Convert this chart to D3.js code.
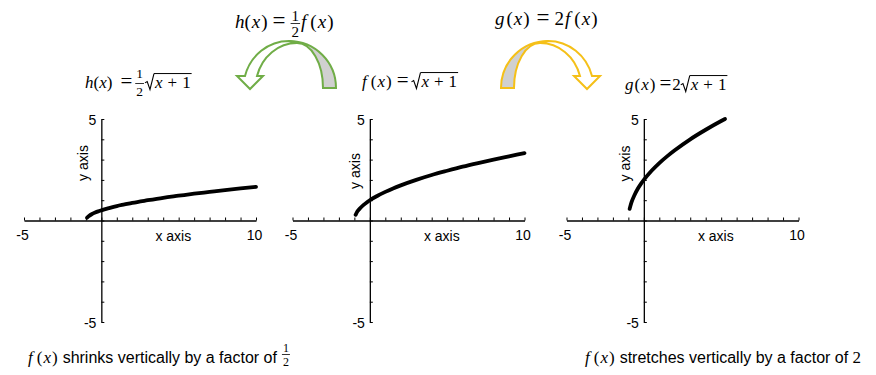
<!DOCTYPE html>
<html>
<head>
<meta charset="utf-8">
<script src="https://cdn.jsdelivr.net/npm/d3@7.9.0/dist/d3.min.js"></script>
<style>
  body { margin: 0; background: #fff; }
  svg { display: block; }
</style>
</head>
<body>
<script>
const xsF = [-0.92, -0.8, -0.6, -0.4, -0.2, 0, 0.5, 1, 1.5, 2, 3, 4, 5, 6, 7, 8, 9, 10];
const hVals = [0.14, 0.22, 0.32, 0.39, 0.45, 0.5, 0.61, 0.71, 0.79, 0.87, 1.0, 1.12, 1.22, 1.32, 1.41, 1.5, 1.58, 1.66];
const fVals = [0.28, 0.45, 0.63, 0.77, 0.89, 1.0, 1.22, 1.41, 1.58, 1.73, 2.0, 2.24, 2.45, 2.65, 2.83, 3.0, 3.16, 3.32];
const xsG = [-0.92, -0.8, -0.6, -0.4, -0.2, 0, 0.5, 1, 1.5, 2, 3, 4, 5, 5.25];
const gVals = [0.57, 0.89, 1.26, 1.55, 1.79, 2.0, 2.45, 2.83, 3.16, 3.46, 4.0, 4.47, 4.9, 5.0];

const xDomain = [-5, 10];
const yDomain = [-5, 5];
const xTickLabels = ['-5', '10'];
const yTickLabels = ['5', '-5'];

const MATH = "'Liberation Serif', 'DejaVu Serif', serif";
const SANS = "'Liberation Sans', Arial, sans-serif";

const svg = d3.select('body').append('svg')
  .attr('width', 876)
  .attr('height', 375);

// one panel per function
const panels = [
  { left: 24, xs: xsF, ys: hVals, labX: -13.5, labY: 163 },
  { left: 292.5, xs: xsF, ys: fVals, labX: -9.5, labY: 171 },
  { left: 566.5, xs: xsG, ys: gVals, labX: -14, labY: 163.5 }
];

panels.forEach((p) => {
  let x = d3.scaleLinear().domain(xDomain).range([p.left, p.left + 232]);
  let y = d3.scaleLinear().domain(yDomain).range([322, 119]);
  let g = svg.append('g');

  let xAxis = g.append('g')
    .attr('transform', `translate(0,${y(0)})`)
    .call(d3.axisTop(x).tickValues(d3.range(-5, 11)).tickSize(3).tickSizeOuter(0).tickFormat(''));
  let yAxis = g.append('g')
    .attr('transform', `translate(${x(0)},0)`)
    .call(d3.axisRight(y).tickValues(d3.range(-5, 6)).tickSize(3).tickSizeOuter(0).tickFormat(''));
  [xAxis, yAxis].forEach((a) => {
    a.select('.domain').attr('stroke', '#000').attr('stroke-width', 1.3);
    a.selectAll('.tick line').attr('stroke', '#000').attr('stroke-width', 1);
  });

  // tick labels at the ends
  [xDomain[0], xDomain[1]].forEach((v, i) => {
    g.append('text')
      .attr('x', x(v) - 1.5)
      .attr('y', 240)
      .attr('text-anchor', 'middle')
      .attr('font-family', SANS)
      .attr('font-size', 14)
      .text(xTickLabels[i]);
  });
  [yDomain[1], yDomain[0]].forEach((v, i) => {
    g.append('text')
      .attr('x', x(0) - 5)
      .attr('y', y(v) + 1.5)
      .attr('dy', '0.35em')
      .attr('text-anchor', 'end')
      .attr('font-family', SANS)
      .attr('font-size', 14)
      .text(yTickLabels[i]);
  });

  g.append('text')
    .attr('x', x(0) + 72)
    .attr('y', 241)
    .attr('text-anchor', 'middle')
    .attr('font-family', SANS)
    .attr('font-size', 14)
    .text('x axis');
  g.append('text')
    .attr('transform', `translate(${x(0) + p.labX},${p.labY}) rotate(-90)`)
    .attr('text-anchor', 'middle')
    .attr('font-family', SANS)
    .attr('font-size', 14)
    .text('y axis');

  let line = d3.line()
    .x((d) => x(d[0]))
    .y((d) => y(d[1]))
    .curve(d3.curveMonotoneX);
  g.append('path')
    .attr('d', line(d3.zip(p.xs, p.ys)))
    .attr('fill', 'none')
    .attr('stroke', '#000')
    .attr('stroke-width', 3.8)
    .attr('stroke-linecap', 'round');
});

// curved ribbon arrows (s = -1 points left, 1 points right)
function arrow(cx, s, color) {
  const X = (u) => cx + s * u;
  const sw = s < 0 ? 0 : 1;
  svg.append('path')
    .attr('d', `M${X(0)},41 A47,47 0 0 ${1 - sw} ${X(-47)},88 L${X(-34)},88 A26,45 0 0 ${sw} ${X(-8)},43 Z`)
    .attr('fill', '#d0d0d0')
    .attr('stroke', color)
    .attr('stroke-width', 2);
  svg.append('path')
    .attr('d', `M${X(0)},41 A45.5,47 0 0 ${sw} ${X(44)},76 L${X(52)},76 L${X(39)},89 L${X(26)},76 L${X(32)},76 A41.4,45 0 0 ${1 - sw} ${X(-8)},43 Z`)
    .attr('fill', '#fff')
    .attr('stroke', color)
    .attr('stroke-width', 2);
}
arrow(289, -1, '#70ad47');
arrow(548, 1, '#f5c018');

// small math typesetter
const I = (t) => ({ t, it: true });
const R = (t, size) => ({ t, size });
const T = (t) => ({ t, sans: true, size: 16 });
const G = (n) => ({ gap: n });
const F = (a, b, o) => ({ frac: [a, b], o });
const S = (p) => ({ sqrt: p });

function mathLine(g, x, y, parts, size) {
  let cx = x;
  parts.forEach((p) => {
    if (p.gap !== undefined) { cx += p.gap; return; }
    if (p.frac) {
      const o = p.o;
      const num = g.append('text').attr('y', y - o.up).attr('font-size', o.fs)
        .attr('font-family', MATH).attr('text-anchor', 'middle').text(p.frac[0]);
      const den = g.append('text').attr('y', y + o.down).attr('font-size', o.fs)
        .attr('font-family', MATH).attr('text-anchor', 'middle').text(p.frac[1]);
      const w = Math.max(num.node().getComputedTextLength(), den.node().getComputedTextLength()) + 2;
      num.attr('x', cx + w / 2);
      den.attr('x', cx + w / 2);
      g.append('line')
        .attr('x1', cx).attr('x2', cx + w)
        .attr('y1', y - o.bar).attr('y2', y - o.bar)
        .attr('stroke', '#000').attr('stroke-width', 0.8);
      cx += w;
      return;
    }
    if (p.sqrt) {
      const top = y - size * 0.85;
      const x0 = cx;
      g.append('path')
        .attr('d', `M${x0},${y - size * 0.3} L${x0 + 2.2},${y - size * 0.38} L${x0 + 5},${y + 1.5} L${x0 + 9},${top}`)
        .attr('fill', 'none').attr('stroke', '#000').attr('stroke-width', 1.1);
      const w = mathLine(g, x0 + 10, y, p.sqrt, size);
      g.append('line')
        .attr('x1', x0 + 9).attr('x2', x0 + 11 + w)
        .attr('y1', top).attr('y2', top)
        .attr('stroke', '#000').attr('stroke-width', 1);
      cx = x0 + 12 + w;
      return;
    }
    const t = g.append('text')
      .attr('x', cx).attr('y', y)
      .attr('font-size', p.size || size)
      .attr('font-family', p.sans ? SANS : MATH)
      .attr('font-style', p.it ? 'italic' : 'normal')
      .text(p.t);
    cx += t.node().getComputedTextLength();
  });
  return cx - x;
}

const fracLow = { fs: 13.5, up: 10.5, down: 7.5, bar: 4.5 };
const fracTop = { fs: 15, up: 7.5, down: 8.5, bar: 4.5 };
const fracText = { fs: 12, up: 11, down: 2.5, bar: 8.5 };
const radicand = [I('x'), G(5), R('+'), G(5), R('1')];
const fx = [I('f'), G(4), R('('), G(1), I('x'), G(1), R(')')];

mathLine(svg, 235, 28, [I('h'), R('('), G(1), I('x'), G(1), R(')'), G(5), R('=', 23), G(5), F('1', '2', fracTop), G(1)].concat(fx), 19);
mathLine(svg, 495, 25, [I('g'), G(2), R('('), G(1), I('x'), G(1), R(')'), G(7), R('=', 23), G(5), R('2'), G(1)].concat(fx), 19);

mathLine(svg, 85, 88, [I('h'), R('('), I('x'), R(')'), G(8), R('=', 21), G(3), F('1', '2', fracLow), G(1), S(radicand)], 17);
mathLine(svg, 362, 87, fx.concat([G(5), R('=', 21), G(3), S(radicand)]), 17);
mathLine(svg, 625, 90, [I('g'), G(1), R('('), G(1), I('x'), G(1), R(')'), G(4), R('=', 21), G(1), R('2'), S(radicand)], 17);

mathLine(svg, 28, 363, fx.concat([G(5), T('shrinks vertically by a factor of'), G(5), F('1', '2', fracText)]), 17);
mathLine(svg, 585, 363, fx.concat([G(5), T('stretches vertically by a factor of'), G(4.4), R('2')]), 17);
</script>
</body>
</html>
